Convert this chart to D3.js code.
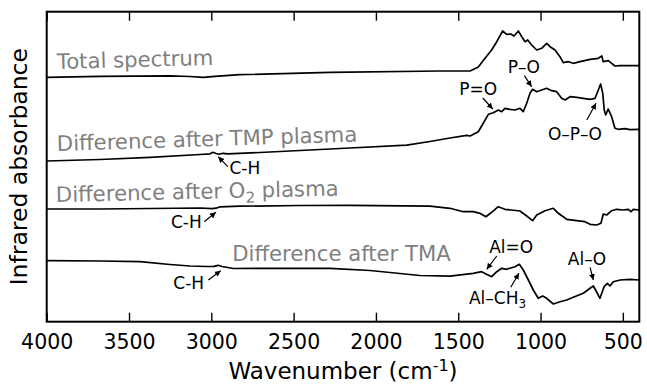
<!DOCTYPE html>
<html>
<head>
<meta charset="utf-8">
<script src="https://cdn.jsdelivr.net/npm/d3@7"></script>
<style>
  body { margin:0; background:#fff; }
  text { font-family:"DejaVu Sans", sans-serif; }
</style>
</head>
<body>
<div id="chart"></div>
<script>
// wavenumber (cm-1) / absorbance (arb. units, offset per trace)
const totalWn  = [4000,3676,3251,3129,3050,2978,2826,2279,1611,1449,1428,1378,1348,1297,1266,1230,1206,1181,1161,1135,1114,1094,1078,1054,1023,993,963,942,912,882,862,831,801,760,699,649,628,619,588,568,548,517,400]
const totalAbs = [24.44,24.54,24.59,24.52,24.44,24.54,24.70,24.94,25.07,25.07,25.07,25.47,26.12,27.17,28.0,29.07,28.74,28.77,28.57,29.07,28.5,28.0,28.17,27.67,27.17,27.34,27.84,27.5,27.17,26.5,25.9,26.0,25.84,26.0,26.24,26.34,26.57,26.0,26.1,25.84,25.57,25.6,25.6]

const tmpWn  = [4000,3676,3372,3069,3008,2990,2971,2953,2929,2899,2705,2461,2158,1813,1672,1550,1449,1428,1378,1348,1317,1287,1257,1236,1216,1186,1155,1125,1105,1084,1064,1048,1023,993,963,932,902,872,851,821,780,740,699,669,653,635,622,613,604,589,568,548,528,487,456,400]
const tmpAbs = [16.07,16.22,16.44,16.72,16.79,16.94,16.82,16.74,16.84,16.79,16.92,17.12,17.37,17.66,18.02,18.37,18.64,18.57,19.0,19.84,20.74,20.9,21.17,21.0,21.34,21.24,21.17,21.34,21.0,21.84,22.84,23.24,23.0,23.17,23.34,23.1,23.0,22.34,22.17,22.5,22.44,22.34,22.24,22.34,23.0,23.77,22.84,21.17,20.67,21.27,20.5,19.34,19.24,19.31,19.21,19.24]

const o2Wn  = [4000,3676,3372,3069,2996,2971,2947,2826,2461,2158,1672,1550,1469,1409,1368,1332,1297,1257,1216,1176,1125,1084,1048,1023,973,922,892,841,780,730,699,659,633,619,598,568,538,497,467,451,436,400]
const o2Abs = [11.27,11.27,11.32,11.37,11.31,11.35,11.49,11.55,11.62,11.64,11.55,11.34,11.0,11.0,10.84,10.5,10.94,11.5,11.24,11.17,11.07,10.57,10.1,10.67,11.1,11.34,10.84,10.24,10.1,10.0,9.74,9.67,9.84,10.77,10.67,11.1,11.24,11.17,11.24,11.0,11.24,11.17]

const tmaWn  = [4000,3676,3433,3251,3129,3028,2984,2959,2935,2866,2583,2279,2036,1733,1550,1409,1358,1328,1297,1266,1236,1206,1176,1155,1129,1105,1074,1044,1014,987,963,922,882,841,801,740,699,679,659,639,614,594,578,558,517,456,400]
const tmaAbs = [6.1,6.07,6.0,5.72,5.57,5.52,5.54,5.64,5.52,5.32,5.34,5.34,5.12,4.62,4.55,4.84,5.0,4.74,4.5,5.0,5.34,5.24,5.4,5.5,5.74,5.17,4.17,3.17,2.34,2.57,2.34,1.77,2.0,2.17,2.44,2.84,3.34,3.57,2.97,2.34,3.5,3.84,3.57,4.0,4.17,4.24,4.17]

const xTicks = [4000,3500,3000,2500,2000,1500,1000,500]

// trace names: [text, subscript, rest, wn, abs, tilt]
const traceLabels = [
  ["Total spectrum", "", "", 3937, 25.27, -1.5],
  ["Difference after TMP plasma", "", "", 3937, 17.07, -1.8],
  ["Difference after O", "2", " plasma", 3943, 11.97, -1.3],
  ["Difference after TMA", "", "", 2873, 6.07, 0]
]

// peak annotations: label, sub, tip (wn,abs), tail (wn,abs), text (wn,abs), anchor
const peaks = [
  ["C-H","", 2958,16.5, 2900,15.5, 2890,14.82, "start"],
  ["C-H","", 2972,10.94, 3043,10.0, 3058,9.34, "end"],
  ["C-H","", 2943,5.1, 3018,4.17, 3044,3.24, "end"],
  ["P=O","", 1290,21.27, 1351,22.37, 1379,22.67, "middle"],
  ["P\u2013O","", 1054,23.5, 1098,24.6, 1101,24.84, "middle"],
  ["O\u2013P\u2013O","", 663,21.84, 719,20.17, 791,18.17, "middle"],
  ["Al=O","", 1327,5.24, 1266,6.57, 1178,6.9, "middle"],
  ["Al\u2013CH","3", 1131,4.84, 1181,3.44, 1261,1.77, "middle"],
  ["Al\u2013O","", 679,4.17, 699,5.44, 718,5.67, "middle"]
]

const series = [
  {wn: totalWn, abs: totalAbs},
  {wn: tmpWn, abs: tmpAbs},
  {wn: o2Wn, abs: o2Abs},
  {wn: tmaWn, abs: tmaAbs}
]

let width = 647, height = 387,
    margin = {top:11.7, left:46.7, right:7.7, bottom:65.3}

const x = d3.scaleLinear().domain([4000,400]).range([margin.left, width-margin.right])
const y = d3.scaleLinear().domain([0,31]).range([height-margin.bottom, margin.top])

const svg = d3.select("#chart").append("svg")
  .attr("width",width).attr("height",height)

svg.append("defs").append("marker")
  .attr("id","head").attr("viewBox","0 0 10 10")
  .attr("refX",10).attr("refY",5)
  .attr("markerWidth",6).attr("markerHeight",6)
  .attr("markerUnits","userSpaceOnUse")
  .attr("orient","auto")
  .append("path").attr("d","M0,0L10,5L0,10Z").attr("fill","#000")

const line = d3.line().x(d=>x(d[0])).y(d=>y(d[1]))

svg.selectAll(".trace").data(series).enter().append("path")
  .attr("class","trace")
  .attr("d",s=>line(s.wn.map((w,i)=>[w,s.abs[i]])))
  .attr("fill","none").attr("stroke","#000").attr("stroke-width",1.7)
  .attr("stroke-linejoin","round")

// axes
const xAxis = d3.axisBottom(x).tickValues(xTicks).tickSize(-9).tickFormat(d3.format("d"))
const xTop = d3.axisTop(x).tickValues(xTicks).tickSize(-9).tickFormat("")
const gx = svg.append("g").attr("transform",`translate(0,${height-margin.bottom})`).call(xAxis)
const gt = svg.append("g").attr("transform",`translate(0,${margin.top})`).call(xTop)
;[gx,gt].forEach(g=>{
  g.select(".domain").remove()
  g.selectAll(".tick line").attr("stroke","#000").attr("stroke-width",1.4)
})
gx.selectAll(".tick text").attr("font-size","20.5px").attr("fill","#000")
  .attr("dy",null).attr("y",27)

svg.append("rect")
  .attr("x",margin.left).attr("y",margin.top)
  .attr("width",width-margin.left-margin.right)
  .attr("height",height-margin.top-margin.bottom)
  .attr("fill","none").attr("stroke","#000").attr("stroke-width",2)

// trace labels
traceLabels.forEach(l=>{
  const t = svg.append("text")
    .attr("transform",`translate(${x(l[3])},${y(l[4])}) rotate(${l[5]})`)
    .attr("font-size","21.2px").attr("fill","#808080")
  t.append("tspan").text(l[0])
  if(l[1]) t.append("tspan").attr("dy",5).attr("font-size","15px").text(l[1])
  if(l[2]) t.append("tspan").attr("dy",-5).text(l[2])
})

// peak annotations
peaks.forEach(p=>{
  svg.append("line")
    .attr("x1",x(p[4])).attr("y1",y(p[5]))
    .attr("x2",x(p[2])).attr("y2",y(p[3]))
    .attr("stroke","#000").attr("stroke-width",1.2)
    .attr("marker-end","url(#head)")
  const t = svg.append("text")
    .attr("x",x(p[6])).attr("y",y(p[7]))
    .attr("text-anchor",p[8]).attr("font-size","17px").attr("fill","#000")
  t.append("tspan").text(p[0])
  if(p[1]) t.append("tspan").attr("dy",4).attr("font-size","12px").text(p[1])
})

// axis titles
const xl = svg.append("text")
  .attr("x",(margin.left+width-margin.right)/2).attr("y",379)
  .attr("text-anchor","middle").attr("font-size","23px")
xl.append("tspan").text("Wavenumber (cm")
xl.append("tspan").attr("dy",-8).attr("font-size","16px").text("-1")
xl.append("tspan").attr("dy",8).text(")")

svg.append("text")
  .attr("transform",`translate(27,${(margin.top+height-margin.bottom)/2}) rotate(-90)`)
  .attr("text-anchor","middle").attr("font-size","23.5px")
  .text("Infrared absorbance")
</script>
</body>
</html>
